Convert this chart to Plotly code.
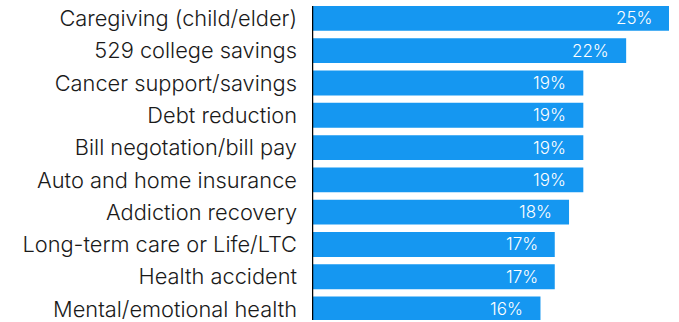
import plotly.graph_objects as go

categories = [
    "Caregiving (child/elder)",
    "529 college savings",
    "Cancer support/savings",
    "Debt reduction",
    "Bill negotation/bill pay",
    "Auto and home insurance",
    "Addiction recovery",
    "Long-term care or Life/LTC",
    "Health accident",
    "Mental/emotional health",
]
values = [25, 22, 19, 19, 19, 19, 18, 17, 17, 16]
value_labels = [f"{v}%" for v in values]

BAR_COLOR = "#1597F1"
BAR_GAP = 0.23

fig = go.Figure(
    go.Bar(
        x=values,
        y=categories,
        orientation="h",
        marker=dict(color=BAR_COLOR, line=dict(width=0)),
        hoverinfo="skip",
    )
)

# value labels sit inside the bar end with extra padding
for cat, v, lab in zip(categories, values, value_labels):
    fig.add_annotation(
        x=v, y=cat, text=lab, showarrow=False,
        xanchor="right", xshift=-15, yshift=0,
        font=dict(family="Inter", size=17, color="white", weight=300),
    )

# baseline running from the first bar's top edge downward
fig.add_shape(
    type="line", xref="x", yref="y",
    x0=0, x1=0, y0=-(1 - BAR_GAP) / 2, y1=10,
    line=dict(color="black", width=2.5),
)

fig.update_layout(
    width=679, height=322,
    margin=dict(l=312, r=0, t=0, b=0),
    paper_bgcolor="white", plot_bgcolor="white",
    bargap=BAR_GAP,
    showlegend=False,
    font=dict(family="Inter", color="#1a1a1a"),
    xaxis=dict(range=[0, 25.7], visible=False, fixedrange=True),
    yaxis=dict(
        type="category",
        categoryorder="array", categoryarray=categories,
        range=[9.339, -0.569],
        showgrid=False, zeroline=False, showline=False,
        ticks="", ticklabelstandoff=14,
        tickfont=dict(family="Inter", size=21.8, color="#1a1a1a", weight=300),
    ),
)

fig.write_html("out.html")
